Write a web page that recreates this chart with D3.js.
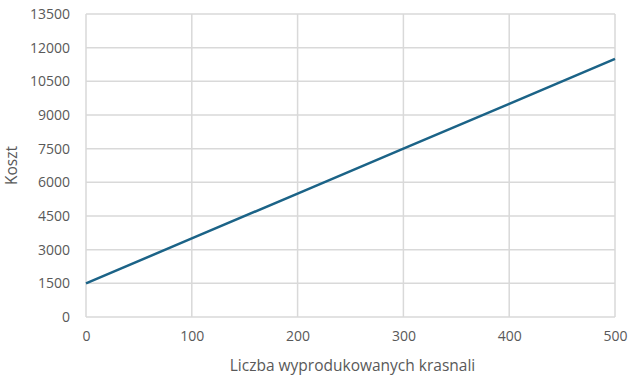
<!DOCTYPE html>
<html>
<head>
<meta charset="utf-8">
<script src="https://cdn.jsdelivr.net/npm/d3@7"></script>
<style>
  body { margin: 0; background: #fff; }
  text { font-family: "Open Sans", "Noto Sans", sans-serif; fill: #595959; }
</style>
</head>
<body>
<div id="chart"></div>
<script>
// liczba krasnali vs koszt
var xValues = [0, 100, 200, 300, 400, 500]
var costValues = [1500, 3500, 5500, 7500, 9500, 11500]
var yTicks = [0, 1500, 3000, 4500, 6000, 7500, 9000, 10500, 12000, 13500]
var xTicks = [0, 100, 200, 300, 400, 500]

var width = 640
var height = 388
var margin = { top: 14, right: 25, bottom: 71, left: 86 }

var svg = d3.select('#chart')
  .append('svg')
  .attr('width', width)
  .attr('height', height)

var x = d3.scaleLinear()
  .domain([0, 500])
  .range([margin.left, width - margin.right])

var y = d3.scaleLinear()
  .domain([0, 13500])
  .range([height - margin.bottom, margin.top])

// grid lines
svg.append('g')
  .selectAll('line')
  .data(yTicks)
  .join('line')
  .attr('x1', x(0))
  .attr('x2', x(500))
  .attr('y1', d => y(d))
  .attr('y2', d => y(d))
  .attr('stroke', '#d9d9d9')
  .attr('stroke-width', 1.5)

svg.append('g')
  .selectAll('line')
  .data(xTicks)
  .join('line')
  .attr('x1', d => x(d))
  .attr('x2', d => x(d))
  .attr('y1', y(0))
  .attr('y2', y(13500))
  .attr('stroke', '#d9d9d9')
  .attr('stroke-width', 1.5)

// axes labels
var yAxis = d3.axisLeft(y).tickValues(yTicks).tickFormat(d3.format('d')).tickSize(0).tickPadding(16)
svg.append('g')
  .attr('transform', 'translate(' + margin.left + ',0)')
  .call(yAxis)
  .call(g => g.select('.domain').remove())
  .selectAll('text')
  .style('font-size', '14px')

var xAxis = d3.axisBottom(x).tickValues(xTicks).tickFormat(d3.format('d')).tickSize(0).tickPadding(14)
svg.append('g')
  .attr('transform', 'translate(0,' + y(0) + ')')
  .call(xAxis)
  .call(g => g.select('.domain').remove())
  .selectAll('text')
  .style('font-size', '14px')

// the line
var line = d3.line()
  .x((d, i) => x(xValues[i]))
  .y(d => y(d))

svg.append('path')
  .datum(costValues)
  .attr('d', line)
  .attr('fill', 'none')
  .attr('stroke', '#1b6387')
  .attr('stroke-width', 2.5)

// titles
svg.append('text')
  .attr('x', (x(0) + x(500)) / 2 + 2)
  .attr('y', 371)
  .attr('text-anchor', 'middle')
  .style('font-size', '15.5px')
  .text('Liczba wyprodukowanych krasnali')

svg.append('text')
  .attr('transform', 'translate(17,' + ((y(0) + y(13500)) / 2) + ') rotate(-90)')
  .attr('text-anchor', 'middle')
  .style('font-size', '15.5px')
  .text('Koszt')
</script>
</body>
</html>
